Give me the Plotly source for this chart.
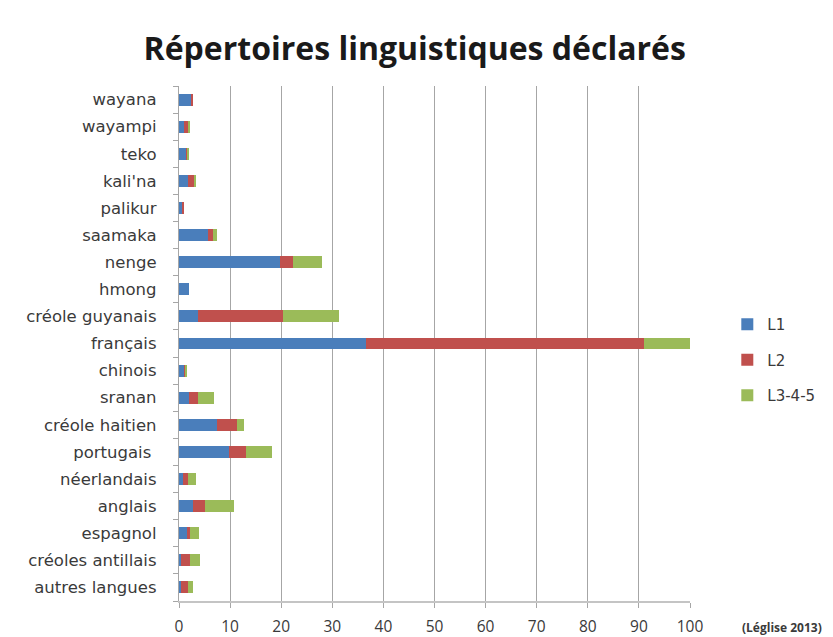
import plotly.graph_objects as go

categories = ["wayana", "wayampi", "teko", "kali'na", "palikur", "saamaka", "nenge",
              "hmong", "créole guyanais", "français", "chinois", "sranan",
              "créole haitien", "portugais ", "néerlandais", "anglais", "espagnol",
              "créoles antillais", "autres langues"]
l1 = [2.5, 1.0, 1.4, 1.7, 0.6, 5.6, 19.8, 2.0, 3.8, 36.5, 1.0, 2.0, 7.4, 9.7, 0.8, 2.7, 1.6, 0.3, 0.4]
l2 = [0.1, 0.8, 0.3, 1.3, 0.2, 1.0, 2.6, 0.0, 16.5, 54.4, 0.2, 1.8, 3.9, 3.4, 1.0, 2.4, 0.6, 1.8, 1.4]
l345 = [0.0, 0.2, 0.1, 0.3, 0.0, 0.9, 5.6, 0.0, 11.1, 9.1, 0.3, 3.1, 1.5, 5.1, 1.5, 5.7, 1.8, 2.1, 1.0]
series_names = ["L1", "L2", "L3-4-5"]
colors = ["#4A7EBB", "#C0504D", "#9BBB59"]
x_ticks = [0, 10, 20, 30, 40, 50, 60, 70, 80, 90, 100]

font = "'Open Sans', sans-serif"
wide = "'DejaVu Sans', sans-serif"
fig = go.Figure()
for name, vals, col in zip(series_names, [l1, l2, l345], colors):
    fig.add_trace(go.Bar(y=categories, x=vals, name=name, orientation="h", legendgroup=name,
                         marker=dict(color=col, line=dict(width=0))))

fig.update_layout(
    width=825, height=629,
    barmode="stack", bargap=0.56,
    paper_bgcolor="white", plot_bgcolor="white",
    margin=dict(l=171, r=143, t=78, b=36),
    title=dict(text="<b>Répertoires linguistiques déclarés</b>", x=0.493, xanchor="center",
               y=0.935, yanchor="middle", font=dict(family=font, size=32, color="#1a1a1a")),
    font=dict(family=font, color="#3a3a3a"),
    legend=dict(x=1.073, y=0.468, xanchor="left", yanchor="middle", traceorder="grouped",
                tracegroupgap=13, font=dict(family=wide, size=15, color="#3a3a3a"),
                itemwidth=30),
    showlegend=True,
)
fig.update_xaxes(range=[0, 100], tickvals=x_ticks, showgrid=True, gridcolor="#a6a6a6",
                 gridwidth=1.3, showline=True, linecolor="#c4c4c4", linewidth=1.5,
                 ticks="outside", ticklen=5, tickcolor="#a6a6a6", ticklabelstandoff=6,
                 automargin=False,
                 tickfont=dict(size=15.5, color="#3a3a3a"), zeroline=False)
fig.update_yaxes(categoryorder="array", categoryarray=categories[::-1],
                 showline=True, linecolor="#a6a6a6", linewidth=1.3,
                 ticks="outside", tickson="boundaries", ticklen=5, tickcolor="#a6a6a6",
                 ticklabelstandoff=18, automargin=False,
                 tickfont=dict(family=wide, size=16.5, color="#3a3a3a"), showgrid=False)
fig.add_annotation(text="<b>(Léglise 2013)</b>", xref="paper", yref="paper", x=1.262, y=-0.052,
                   xanchor="right", yanchor="middle", showarrow=False,
                   font=dict(family=font, size=12, color="#3a3a3a"))
fig.write_html("out.html")
